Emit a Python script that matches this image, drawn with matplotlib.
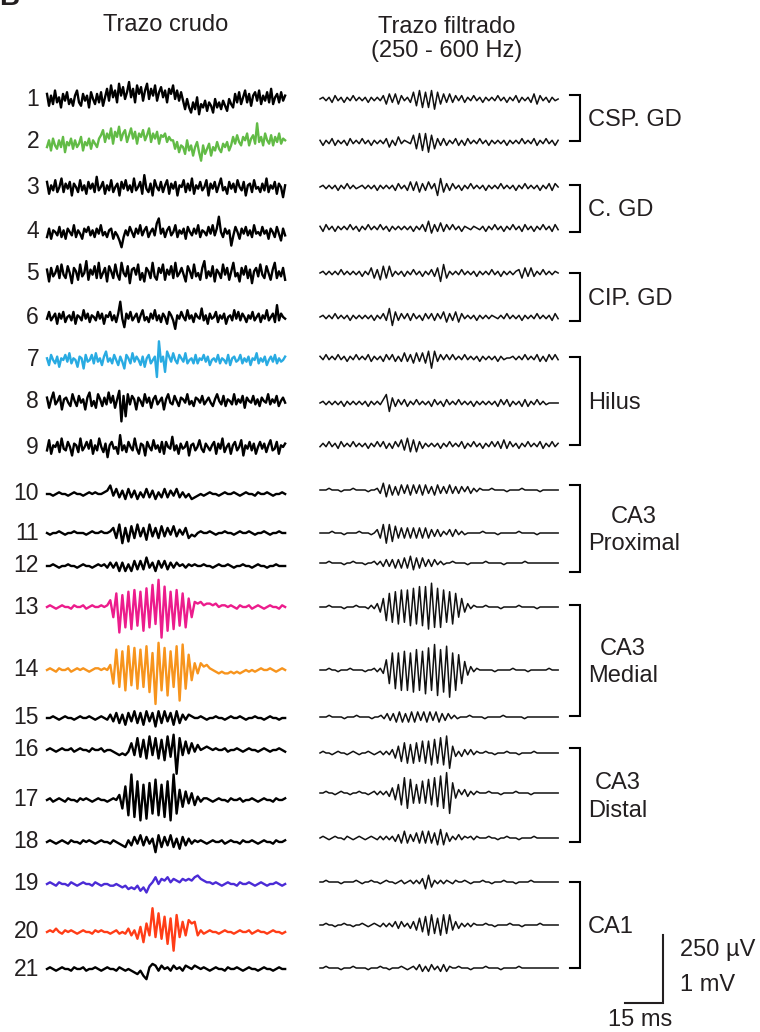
import numpy as np
import matplotlib
matplotlib.use("Agg")
import matplotlib.pyplot as plt

plt.rcParams['font.family'] = ['Liberation Sans', 'DejaVu Sans']

# ==========================================
# データ (各トレースの値は目視で読み取った近似値)
# raw  : 1単位 = 25 uV   (1 mV スケールバー = 40 単位)
# filt : 1単位 = 6.25 uV (250 uV スケールバー = 40 単位)
# ==========================================
channels = [str(i) for i in range(1, 22)]

raw_colors = ['#000000', '#62BB46', '#000000', '#000000', '#000000', '#000000', '#29ABE2',
              '#000000', '#000000', '#000000', '#000000', '#000000', '#EC1C8C', '#F7941D',
              '#000000', '#000000', '#000000', '#000000', '#4B2BD6', '#FF3D17', '#000000']

raw_traces = [
    "3 -4 2 -3 5 -2 1 -5 3 -1 4 -3 0 -4 2 5 -2 -4 3 -1 2 -5 4 0 -3 3 -2 4 -4 1 "
    "6 -1 8 1 5 -2 9 2 7 0 4 10 1 6 -2 8 3 7 -1 5 9 0 6 2 8 -1 4 7 1 5 -2 6 3 8 0 5 -1 4 "
    "-1 -6 0 -5 -8 -2 -6 1 -9 -3 -5 -1 -7 -2 -4 -8 0 -5 -2 -6 -1 -4 -7 0 -3 -5 "
    "3 -2 4 -3 1 5 -2 3 -4 2 4 -1 5 -3 2 -1 4 -2 6 -3 1 3 -2 4 -1 2",
    "-3 1 -5 2 -2 -4 1 -3 3 -6 0 -2 2 -4 1 -3 -1 3 -5 0 -2 2 -4 1 -1 -3 2 "
    "4 7 0 5 2 8 -1 6 3 9 1 5 7 0 4 8 2 6 -1 5 3 7 1 4 8 0 5 2 6 -1 4 3 5 0 3 1 "
    "1 -4 0 -6 -2 -3 -7 1 -5 -2 -8 -3 0 -6 -11 -2 -7 -4 -1 -8 -3 -5 0 -4 -6 -1 -3 0 -5 -2 "
    "3 -1 4 0 -2 3 1 5 -2 2 4 -1 11 0 3 -2 5 1 -1 4 -2 3 0 5 -1 2 1",
    "3 -4 1 -2 4 -3 0 5 -3 2 -1 3 -5 2 0 -3 4 -2 1 -4 3 -1 2 -3 6 -2 0 3 -4 1 -2 4 -3 0 2 -5 3 -1 4 -2 "
    "1 -3 5 -2 0 3 -4 7 -1 -3 2 -5 4 0 -2 3 -3 1 4 -4 2 -1 3 -5 1 0 4 -3 2 -2 5 -4 1 -1 3 -2 0 4 -5 2 "
    "-1 3 -3 1 5 -2 0 -4 3 -1 2 -3 4 0 -2 3 -5 1 2 -3 4 -1 0 -3 2 -2 5 -3 1 -1 3 -4 2 0 -6 1",
    "-3 2 -4 1 0 -2 3 -3 1 -4 2 0 -2 4 -3 1 -1 -4 2 0 3 -2 1 -3 2 -1 4 -2 0 -3 1 2 -4 0 -2 -5 -9 -3 1 -2 "
    "3 0 -3 2 -1 4 -2 1 3 -3 0 2 -2 5 8 -1 2 -3 1 3 -2 0 4 -3 1 -1 2 -4 3 0 -2 2 -1 4 -3 1 0 -2 3 -1 "
    "4 -2 2 9 0 -3 2 -1 1 -8 -2 3 0 -4 2 -1 3 -2 1 -3 4 -1 0 -2 3 -1 1 -4 2 0 -3 3 -1 -5 2 -2",
    "2 -5 3 -2 0 4 -3 5 -1 -3 4 0 -6 3 1 -4 5 -2 0 7 -4 2 -1 4 -3 6 -3 0 3 -5 4 1 -3 5 -1 -4 6 0 -2 4 "
    "-6 2 3 -1 5 -4 0 -5 3 1 -3 6 -2 -4 3 0 5 -4 2 -1 4 -3 6 -2 0 3 -1 -5 4 1 -3 5 -2 0 -4 3 7 -3 1 -2 "
    "4 -5 2 0 -3 5 -1 3 -4 1 6 -2 0 -5 3 -1 4 -3 2 -6 1 3 -2 5 -1 -3 4 0 -4 2 6 -3 1 -2 3 -4",
    "-1 3 -2 0 2 -4 2 -1 3 -3 0 1 -2 3 -4 1 0 -2 4 -1 2 -3 1 0 -2 3 -1 2 -4 1 0 3 -2 1 -3 2 9 -1 -6 2 "
    "-1 3 -2 0 2 -3 1 4 -2 0 -3 2 -1 4 -2 1 -3 2 0 -4 3 1 -2 -7 1 -1 3 0 -2 4 -1 1 -3 2 0 -1 5 -2 1 -4 "
    "2 -1 0 3 -3 1 -1 2 -4 0 1 -2 4 -1 3 -2 2 0 -3 1 -1 3 -2 0 2 -3 1 -1 4 -2 0 2 -3 7 -2 2 0 -1",
    "1 -3 3 0 -2 2 -4 1 0 3 -1 4 -2 1 0 -4 2 1 -5 3 -1 0 3 -2 4 -1 1 -3 2 5 -1 1 -2 3 0 -3 2 -1 -5 3 "
    "1 -2 4 -1 2 0 -3 2 -4 1 3 -2 0 2 -10 11 -1 2 -7 5 2 -1 4 0 -2 3 1 -1 4 -2 0 1 -2 3 -2 1 0 3 -1 2 "
    "-3 0 1 -1 3 -2 1 0 -2 3 -3 1 2 -1 0 3 -2 1 -1 2 -3 1 0 4 -2 1 -1 2 -3 0 2 -1 3 -2 1 -1 0 2",
    "2 -4 1 5 -2 0 3 -5 1 2 -1 -3 4 0 -3 3 -1 1 -5 2 5 -3 0 -4 4 1 -3 2 -2 5 -1 3 -4 1 6 -12 3 -9 4 -2 "
    "3 1 -5 2 0 -3 4 -1 2 -4 1 3 -2 0 2 -5 1 4 -1 -2 3 0 -3 2 1 -1 4 -2 0 -3 2 1 -1 3 -2 0 2 -1 -3 1 "
    "4 0 -2 3 -3 1 0 -2 4 -2 1 -1 3 -4 2 0 -1 3 -2 1 -3 2 0 -1 4 -2 1 -1 3 -3 0 2 -1",
    "-2 4 -4 1 0 3 -3 5 -1 -2 3 0 -5 2 1 -3 5 -2 0 3 -1 4 -4 1 -2 5 0 -3 2 -6 1 3 -1 0 -4 7 -2 1 -3 3 "
    "0 -2 5 -1 -4 2 1 -5 3 0 -2 4 -1 1 -3 3 -4 3 0 -1 6 -2 1 -4 2 -1 0 3 -5 1 2 -2 0 4 -1 -3 2 0 -2 1 "
    "3 -4 2 -1 5 -3 0 2 -4 1 3 -2 0 4 -5 1 -1 3 -2 2 -4 0 3 -1 2 -3 1 4 -2 -1 3 -4 1 0 2",
    "0 0 -1 0 1 0 0 -1 0 1 0 0 -1 0 1 0 1 0 0 1 2 5 -1 3 -2 2 -3 3 -2 2 -3 1 -2 3 -2 2 -3 1 -2 3 "
    "-2 2 -1 3 -2 1 -2 0 -3 -2 -1 0 -1 0 1 0 0 -1 0 1 0 0 1 0 -1 0 1 0 0 -1 1 0 0 1 0 -1 0 0 1 0",
    "0 -1 0 0 1 0 -1 0 0 1 0 0 0 -1 0 1 0 0 1 0 0 1 3 -3 5 -6 3 -5 4 -3 5 -2 3 -4 5 -2 3 -3 4 -2 "
    "3 -1 4 -2 2 -1 3 -3 -1 -2 0 1 0 0 1 0 -1 0 0 1 0 0 -1 0 1 0 0 1 0 -1 0 0 1 0 -1 0 0 1 0 0",
    "0 0 1 0 -1 0 0 1 0 0 -1 0 1 0 0 -1 0 1 0 1 -1 2 -1 2 -3 2 -3 1 -3 3 -2 3 -2 5 -1 2 -3 3 -1 3 "
    "-2 2 -1 2 0 1 -1 1 0 1 0 0 1 0 0 -1 0 1 0 0 1 0 -1 0 0 1 0 0 -1 0 1 0 0 -1 0 0 1 0 0 0",
    "0 1 0 -1 0 1 0 0 -1 1 0 0 1 -1 0 1 0 0 1 0 1 4 -6 8 -15 7 -12 9 -13 10 -11 9 -14 11 -12 13 -10 16 -18 12 "
    "-14 9 -13 10 -11 8 -12 5 -6 3 2 3 1 2 2 1 2 0 1 1 0 1 0 -1 1 0 0 1 -1 0 1 0 -1 0 1 0 0 -1 1 0",
    "0 1 0 -1 1 0 0 1 -1 0 1 0 1 0 -1 0 1 1 0 1 0 3 -8 12 -10 11 -12 14 -9 13 -11 12 -10 14 -13 10 -20 16 -12 13 "
    "-15 11 -10 14 -18 15 -11 9 -6 4 -2 4 2 3 1 0 -1 -2 -1 -2 -2 -1 -2 -1 -2 -1 0 -1 0 -1 0 1 0 0 1 0 -1 0 1 0",
    "0 0 1 0 -1 0 1 0 0 -1 0 1 0 0 1 0 -1 0 1 0 -1 2 -2 3 -3 2 -4 3 -2 4 -3 3 -4 4 -2 3 -5 4 -3 4 "
    "-2 3 -4 4 -3 2 -1 2 1 0 0 1 0 -1 0 0 1 0 0 -1 0 1 0 0 1 0 -1 0 0 1 0 0 -1 0 1 0 0 -1 0 0",
    "0 1 0 -1 0 1 0 0 1 -1 0 1 0 0 -1 1 0 0 1 -1 0 0 -1 -2 -3 -2 -3 -1 4 -3 7 -4 6 -5 8 -3 7 -5 6 -6 "
    "8 -4 9 -14 7 -3 5 -2 4 -1 3 0 1 2 1 0 1 0 0 1 -1 0 0 1 0 -1 0 1 0 0 -1 0 1 0 -1 0 0 1 0 -1",
    "0 1 -1 0 1 0 -1 1 0 0 -1 1 0 1 0 -1 0 1 0 0 -1 0 1 0 3 -5 8 -9 15 -10 11 -12 9 -11 10 -8 12 -9 9 -10 "
    "11 -12 15 -8 6 -4 5 -2 4 -3 2 -1 1 1 0 -1 0 1 0 0 -1 1 0 0 1 -1 0 0 1 0 -1 0 1 0 0 -1 1 0 0 1",
    "0 1 0 -1 0 1 0 -1 1 0 0 -1 1 0 1 0 -1 0 1 0 0 -1 1 0 -1 -2 -3 1 -2 3 -1 4 -2 3 -1 2 -6 4 -3 3 "
    "-2 4 -3 2 -4 3 -2 2 -1 1 0 1 0 -1 0 1 0 0 1 -1 0 1 0 0 -1 1 0 0 1 0 -1 0 1 0 0 -1 1 0 0 1",
    "0 1 0 -1 1 0 0 -1 1 0 -1 0 1 0 0 -1 1 0 -1 0 0 -1 -1 0 -1 -2 -1 -3 -2 -3 -1 -4 -2 -5 -1 1 4 0 3 2 "
    "4 1 3 2 1 3 2 3 2 4 5 3 2 1 1 0 1 0 -1 0 1 0 0 -1 1 0 0 1 0 -1 0 1 0 -1 0 0 1 0 -1 0",
    "0 1 0 2 0 -1 1 0 1 0 -1 0 1 0 0 -1 1 0 1 0 0 -1 0 1 -1 0 -1 2 -2 1 -4 3 -6 5 -2 14 -3 11 -4 9 "
    "-7 8 -11 10 -3 6 -2 7 5 6 -2 1 -1 0 1 0 0 -1 0 1 0 0 -1 0 1 0 0 1 -1 0 1 0 0 -1 0 1 0 0 -1 0",
    "0 1 0 -1 0 1 0 0 -1 1 0 0 1 -1 0 0 1 0 -1 0 1 0 0 -1 1 0 -1 0 -1 -2 -3 -1 -4 -6 1 3 2 -1 2 0 "
    "1 -1 2 0 1 -1 2 1 0 2 1 0 1 0 -1 0 1 0 0 -1 1 0 0 1 0 -1 0 1 0 0 -1 0 1 0 0 -1 0 1 0 0",
]

filt_traces = [
    "0 1 -1 1 -2 2 -1 1 -2 1 -1 2 -1 1 -1 1 -2 1 -1 1 -1 2 -3 3 -2 3 -3 2 -1 1 -2 4 -4 5 -5 4 -5 5 -6 4 "
    "-3 3 -2 3 -2 2 -1 2 -2 1 -1 2 -1 1 -2 1 -1 1 -1 2 -1 1 -2 1 -1 2 -2 1 -1 1 -2 3 -3 2 -1 1 -2 1 -1 0",
    "1 -2 1 -1 2 -2 1 -1 1 -2 2 -1 1 -1 2 -1 1 -2 1 -1 1 -1 2 -3 1 -2 3 -1 1 0 -1 4 -4 5 -5 5 -6 4 -4 2 "
    "-2 2 -2 1 -1 2 -2 1 -2 2 -1 1 -1 2 -1 1 -2 1 -1 1 -1 1 -2 1 -1 1 -1 2 -1 1 -1 2 -2 1 -1 2 -1 1 -2 1",
    "0 1 -1 1 -1 1 -2 1 -1 2 -1 1 -1 0 1 -1 1 -1 1 -2 1 -1 1 -1 1 -2 2 -1 1 -2 3 -2 3 -3 2 -2 3 -1 2 -5 "
    "5 -3 2 -2 2 -1 1 -2 1 -1 2 -1 1 -1 1 -2 1 -1 1 -1 2 -1 1 -1 1 -2 1 -1 2 -1 1 -1 1 -2 1 -1 2 -2 2 0",
    "1 -2 2 -1 1 -2 1 -1 1 -1 2 -1 1 -2 1 -1 2 -1 1 -1 2 -1 1 -2 1 -1 1 -1 1 -1 1 -2 1 -1 2 -2 4 -3 2 -2 "
    "3 -2 2 -1 2 -1 1 -2 1 0 -1 1 0 -1 1 -2 1 -1 2 -1 1 -2 1 -1 2 -1 1 -2 2 -1 1 -2 1 -1 2 -1 1 -2 2 -1",
    "0 1 -1 1 -1 1 -1 2 -1 1 -1 1 -1 1 -2 1 -1 3 -3 2 -4 4 -3 4 -2 1 -1 1 -2 1 -1 2 -1 1 -2 1 -1 2 -2 3 "
    "-5 5 -3 1 -1 1 -1 2 -1 1 -1 1 -2 1 -1 1 -1 2 -1 1 -2 1 -1 1 -1 1 2 -3 3 -2 3 -2 1 -1 2 -1 1 -1 1 0",
    "0 1 -1 1 -1 2 -1 1 -1 1 -2 1 -1 1 -1 1 -1 1 -2 1 -1 2 -2 5 -5 3 -2 2 -1 2 -2 2 -1 1 -2 2 -1 2 -2 2 "
    "-1 3 -3 2 -2 3 -3 2 -1 1 -1 1 -2 1 -1 1 -1 1 0 -1 1 -1 2 -1 1 -1 1 -2 1 -1 1 -1 2 -1 1 -1 1 -2 2 -1",
    "1 -1 2 -1 1 -1 2 -1 1 -2 1 -1 2 -1 1 -1 2 -2 1 -1 1 -2 2 -1 2 -2 1 -2 3 -2 2 -3 3 -2 3 -3 4 -6 4 -2 "
    "2 -1 2 -1 2 -1 1 -1 2 -1 1 -1 1 -2 1 -1 1 -1 1 -2 1 -1 0 0 1 -1 1 -1 2 -1 1 -1 2 -2 1 -2 2 -1 2 -1",
    "0 1 -1 1 -1 1 -1 1 -2 1 -1 1 -1 1 -1 1 -2 1 -1 1 -1 2 5 -5 3 -2 2 -1 2 -2 1 -1 2 -1 1 -1 1 -2 2 -1 "
    "1 -2 2 -1 1 -1 2 -1 1 -1 1 -2 1 -1 1 -1 1 -1 1 -2 2 -1 2 -2 1 -1 1 -2 2 -2 1 -1 2 -1 1 -1 0 0 0 0",
    "-1 1 -1 2 -1 1 -2 2 -1 1 -1 2 -1 1 -1 1 -2 1 -1 2 -1 2 -2 1 -2 2 -1 3 -3 4 -4 3 -4 2 -2 1 -1 1 -1 1 "
    "-2 1 -1 2 -1 1 -1 2 -2 1 -1 2 -1 1 -2 1 -1 2 -1 2 -2 3 -2 2 -1 1 -2 1 -1 2 -1 1 -1 2 -2 1 -1 2 -1 1",
    "0 0 0 1 0 0 0 -1 0 0 0 1 0 0 0 0 -1 0 0 1 -2 4 -4 3 -3 2 -3 3 -2 3 -3 3 -2 3 -3 3 -2 2 -3 3 "
    "-2 2 -2 3 -2 2 -2 2 -1 2 -2 1 -1 1 0 0 0 1 0 0 0 0 -1 0 0 0 0 1 0 0 0 0 0 -1 0 0 0 0 0 0",
    "0 0 0 0 1 0 0 0 -1 0 0 0 0 1 0 0 0 -1 0 2 -3 5 -6 5 -5 4 -3 3 -3 3 -3 3 -3 3 -3 3 -3 2 -2 2 "
    "-2 1 -1 2 -2 2 -1 1 -1 0 0 0 0 0 1 0 0 0 0 -1 0 0 0 0 0 0 1 0 0 0 0 0 -1 0 0 0 0 0 0 0",
    "0 0 0 1 0 0 0 0 -1 0 0 1 0 0 0 -1 0 0 1 -1 1 -2 2 -2 2 -3 2 -3 3 -3 4 -4 3 -3 3 -2 2 -2 2 -1 "
    "1 -1 0 0 1 0 0 0 0 -1 0 0 0 0 0 1 0 0 0 0 0 -1 0 0 0 0 0 0 1 0 0 0 0 0 0 0 0 0 0 0",
    "0 0 0 1 0 0 0 0 -1 0 0 0 1 0 0 0 -1 1 -1 2 -3 5 -8 8 -9 9 -10 10 -9 10 -11 11 -10 12 -11 12 -13 14 -12 11 "
    "-12 10 -9 9 -10 8 -6 5 -3 2 -1 1 0 0 0 1 0 0 0 0 -1 0 0 0 0 0 1 0 0 0 0 0 -1 0 0 0 0 0 0 0",
    "0 0 0 1 0 0 -1 0 0 0 1 0 0 0 0 -1 0 0 1 -1 1 -2 6 -8 10 -11 10 -12 11 -12 10 -13 12 -12 11 -14 13 -12 15 -15 "
    "12 -13 14 -16 10 -12 9 -8 5 -3 2 -1 1 0 0 0 0 0 -1 0 0 0 0 0 1 0 0 0 0 -1 0 0 0 0 0 0 1 0 0 0",
    "0 0 0 1 0 0 0 0 -1 0 0 0 1 0 0 0 0 -1 0 0 1 -1 2 -2 2 -3 3 -3 2 -3 3 -3 3 -2 3 -3 3 -2 3 -3 "
    "2 -2 2 -1 1 -1 0 0 0 1 0 0 0 0 -1 0 0 0 0 0 1 0 0 0 0 0 0 -1 0 0 0 0 0 0 0 0 0 0 0",
    "0 1 0 0 -1 0 1 0 0 -1 0 1 0 -1 0 0 1 0 -1 0 1 -1 1 -1 2 -3 4 -5 6 -6 5 -6 6 -5 7 -6 7 -7 8 -6 "
    "9 -7 10 -9 4 -2 1 -2 2 -1 2 -1 1 0 0 1 0 0 -1 0 0 0 1 0 0 0 -1 0 0 0 0 1 0 0 0 0 0 0 0 0",
    "0 0 1 0 0 -1 0 1 0 0 -1 0 0 1 0 0 -1 0 1 -1 1 -1 1 -2 3 -4 5 -7 9 -9 8 -6 5 -6 7 -6 8 -7 9 -8 "
    "10 -9 12 -12 6 -3 2 -1 2 -2 1 -1 1 0 0 0 1 0 0 0 -1 0 0 0 0 1 0 0 0 0 -1 0 0 0 0 0 0 0 0 0",
    "0 1 0 -1 0 1 0 0 -1 1 0 -1 0 1 0 -1 0 1 0 -1 1 -1 1 -1 1 -2 2 -3 4 -3 2 -2 3 -3 4 -3 4 -3 3 -4 "
    "5 -4 3 -2 1 -1 2 -1 1 0 1 -1 1 0 0 0 1 0 0 -1 0 0 1 0 0 0 -1 0 0 0 0 1 0 0 0 0 0 0 0 0",
    "0 0 1 0 0 0 0 -1 0 0 0 0 1 0 -1 0 0 1 0 0 -1 0 1 0 0 -1 0 1 -1 0 1 -1 1 -1 2 -4 4 -3 1 -1 "
    "1 -1 1 0 -1 1 0 0 1 0 -1 0 0 0 1 0 0 -1 0 0 0 1 0 0 0 -1 0 0 0 0 1 0 0 0 0 0 0 0 0 0",
    "0 0 1 0 0 -1 0 0 1 0 0 -1 0 0 1 0 -1 0 1 0 -1 1 -1 1 -1 2 -2 2 -1 1 -2 2 -3 4 -4 5 -6 6 -5 4 "
    "-6 6 -5 6 -3 2 -2 1 -1 1 -1 1 0 0 0 1 0 0 -1 0 0 0 0 1 0 0 0 -1 0 0 0 0 0 1 0 0 0 0 0 0",
    "0 0 1 0 0 0 0 -1 0 0 0 1 0 0 0 0 -1 0 0 0 1 0 0 -1 0 0 0 1 0 -1 0 1 -1 2 -2 1 -2 2 -1 1 "
    "-2 2 -2 1 0 0 1 0 0 0 -1 0 0 0 0 1 0 0 0 0 -1 0 0 0 0 0 1 0 0 0 0 0 0 0 0 0 0 0 0 0",
]

# グループ (最初のch, 最後のch, ラベル)
groups = [(1, 2, "CSP. GD"), (3, 4, "C. GD"), (5, 6, "CIP. GD"), (7, 9, "Hilus"),
          (10, 12, "CA3\nProximal"), (13, 15, "CA3\nMedial"), (16, 18, "CA3\nDistal"),
          (19, 21, "CA1")]

# ==========================================
# レイアウト (ピクセル座標)
# ==========================================
W, H = 760, 1032
DUR_MS = 94.0
PX_PER_MS = 38.0 / 15.0
BAR_PX = 68.0                    # 1 mV (raw) / 250 uV (filt)
RAW_UNIT_UV, FILT_UNIT_UV = 25.0, 6.25
RAW_X0, FILT_X0 = 47, 320
raw_y = [99, 142, 187, 232, 273, 317, 360, 401, 447, 494, 533, 566, 607, 670, 718,
         750, 800, 842, 884, 932, 969]
filt_y = [99, 142, 187, 228, 273, 317, 358, 403, 445, 490, 533, 563, 607, 670, 717,
          753, 793, 838, 882, 925, 968]
bracket_span = [(95, 141), (185, 232), (273, 321), (357, 445), (485, 572), (605, 716),
                (748, 842), (882, 968)]

TXT = '#231F20'
FS = 17

fig = plt.figure(figsize=(W / 100, H / 100), dpi=100)
ax = fig.add_axes([0, 0, 1, 1])
ax.set_xlim(0, W)
ax.set_ylim(H, 0)
ax.axis('off')

for k in range(21):
    v = np.array(raw_traces[k].split(), dtype=float) * RAW_UNIT_UV
    t = np.linspace(0, DUR_MS, len(v))
    ax.plot(RAW_X0 + t * PX_PER_MS, raw_y[k] - v / 1000.0 * BAR_PX,
            color=raw_colors[k], lw=1.7)

    f = np.array(filt_traces[k].split(), dtype=float) * FILT_UNIT_UV
    tf = np.linspace(0, DUR_MS, len(f))
    ax.plot(FILT_X0 + tf * PX_PER_MS, filt_y[k] - f / 250.0 * BAR_PX,
            color='#111111', lw=1.1)

    ax.text(39, raw_y[k], channels[k], ha='right', va='center', fontsize=FS - 0.5, color=TXT)

# ブラケットとラベル
for (c0, c1, name), (top, bot) in zip(groups, bracket_span):
    ax.plot([570, 580, 580, 570], [top, top, bot, bot], color='black', lw=1.5,
            solid_joinstyle='miter')
    ax.text(588, (top + bot) / 2 + 2, name, ha='left', va='center', fontsize=FS,
            color=TXT, multialignment='center', linespacing=1.35)

# 見出し
ax.text(166, 25, "Trazo crudo", ha='center', va='center', fontsize=FS, color=TXT)
ax.text(447, 39, "Trazo filtrado\n(250 - 600 Hz)", ha='center', va='center',
        fontsize=FS, color=TXT, linespacing=1.1)
ax.text(-1, 11, "B", ha='left', va='bottom', fontsize=20, fontweight='bold', color=TXT)

# スケールバー
sb_x, sb_y = 663, 1003
ax.plot([sb_x - 15 * PX_PER_MS, sb_x, sb_x], [sb_y, sb_y, sb_y - BAR_PX],
        color=TXT, lw=1.5, solid_joinstyle='miter')
ax.text(680, 950, "250 µV", ha='left', va='center', fontsize=FS, color=TXT)
ax.text(680, 985, "1 mV", ha='left', va='center', fontsize=FS, color=TXT)
ax.text(640, 1020, "15 ms", ha='center', va='center', fontsize=FS, color=TXT)

fig.savefig("out.png", dpi=100)
